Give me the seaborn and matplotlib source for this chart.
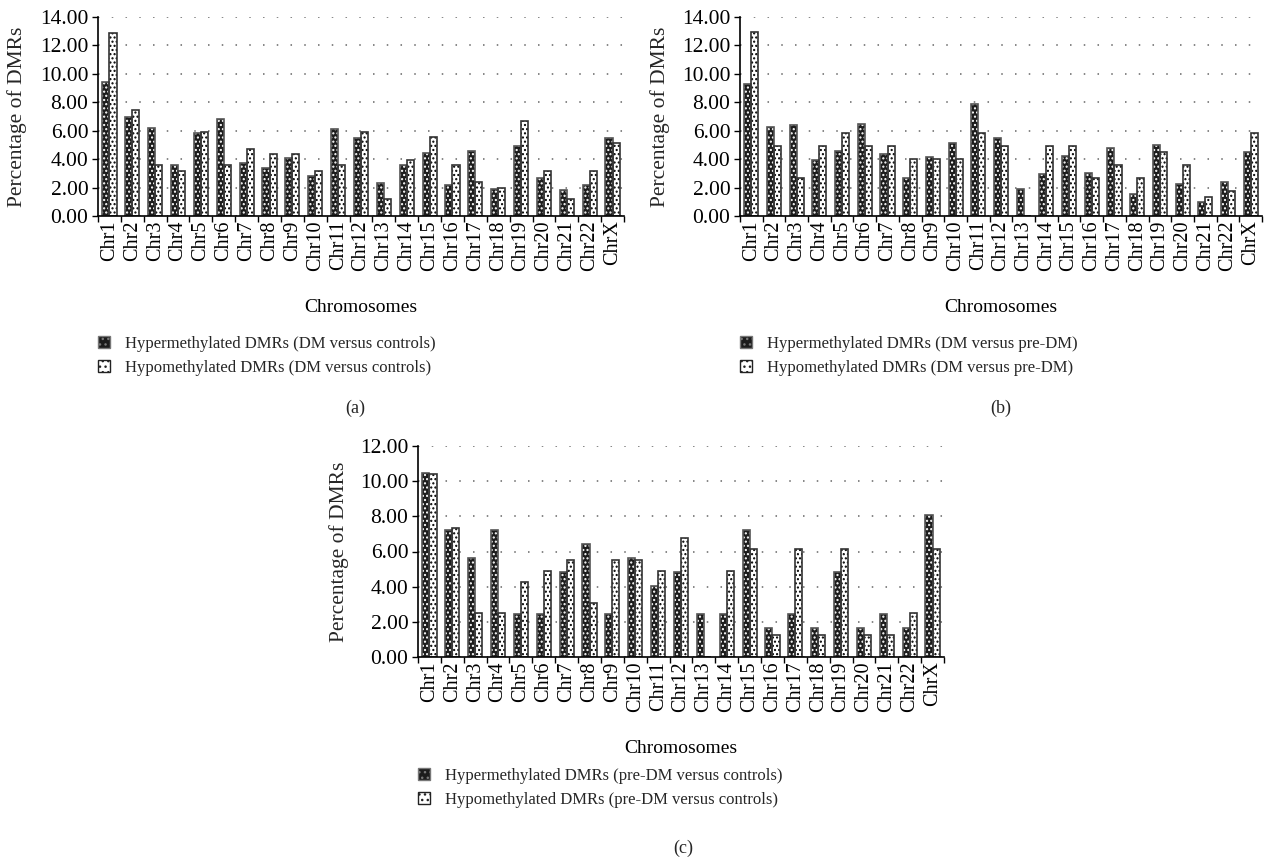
import matplotlib
matplotlib.use("Agg")
import matplotlib.pyplot as plt
from matplotlib.patches import Patch, Rectangle
import seaborn as sns
import pandas as pd

sns.set_theme(style="white")
plt.rcParams['font.family'] = ['Liberation Serif', 'DejaVu Serif']
plt.rcParams['hatch.linewidth'] = 1.0

chroms = ['Chr%d' % i for i in range(1, 23)] + ['ChrX']

hyper_a = [9.42, 7.00, 6.21, 3.58, 5.86, 6.81, 3.74, 3.40, 4.09, 2.81, 6.14, 5.47,
           2.30, 3.58, 4.43, 2.18, 4.59, 1.92, 4.94, 2.69, 1.83, 2.18, 5.46]
hypo_a = [12.90, 7.47, 3.58, 3.16, 5.90, 3.58, 4.72, 4.35, 4.35, 3.19, 3.58, 5.90,
          1.23, 3.95, 5.53, 3.58, 2.39, 1.99, 6.65, 3.16, 1.22, 3.16, 5.13]

hyper_b = [9.26, 6.28, 6.37, 3.93, 4.56, 6.47, 4.37, 2.67, 4.12, 5.12, 7.88, 5.47,
           1.90, 2.93, 4.19, 3.00, 4.81, 1.56, 4.98, 2.28, 1.00, 2.37, 4.47]
hypo_b = [12.95, 4.93, 2.70, 4.93, 5.84, 4.93, 4.93, 4.02, 4.02, 4.02, 5.81, 4.90,
          0.00, 4.90, 4.90, 2.67, 3.58, 2.67, 4.47, 3.58, 1.35, 1.79, 5.81]

hyper_c = [10.45, 7.25, 5.64, 7.25, 2.44, 2.44, 4.83, 6.44, 2.44, 5.64, 4.05, 4.83,
           2.44, 2.44, 7.25, 1.63, 2.44, 1.63, 4.83, 1.63, 2.44, 1.63, 8.05]
hypo_c = [10.40, 7.35, 2.48, 2.48, 4.28, 4.90, 5.53, 3.07, 5.53, 5.53, 4.90, 6.74,
          0.00, 4.90, 6.14, 1.23, 6.14, 1.23, 6.14, 1.23, 1.23, 2.48, 6.14]

panels = [
    ('(a)', 'DM versus controls', hyper_a, hypo_a, 14),
    ('(b)', 'DM versus pre-DM', hyper_b, hypo_b, 14),
    ('(c)', 'pre-DM versus controls', hyper_c, hypo_c, 12),
]

W, H = 1266, 861
# axes boxes in pixels: left, top, right, bottom
boxes = [(98, 17, 624, 216), (740, 17, 1262, 216), (418, 446, 944, 657)]
legend_pos = [(98, 336), (740, 336), (418, 768)]
tag_pos = [(355, 408), (1001, 408), (683, 848)]
ylab_x = [17, 660, 339]

dark = '#1c1c1c'
light = '#ffffff'
edge = '#555555'

fig = plt.figure(figsize=(W / 100, H / 100), dpi=100)

for (tag, comp, hyper, hypo, ymax), (l, t, r, b), lp, tp, yx in zip(
        panels, boxes, legend_pos, tag_pos, ylab_x):
    ax = fig.add_axes([l / W, 1 - b / H, (r - l) / W, (b - t) / H])
    df = pd.DataFrame({
        'chrom': chroms * 2,
        'value': hyper + hypo,
        'kind': ['Hypermethylated DMRs (%s)' % comp] * len(chroms)
        + ['Hypomethylated DMRs (%s)' % comp] * len(chroms),
    })
    sns.barplot(data=df, x='chrom', y='value', hue='kind', palette=[dark, light],
                width=0.62, gap=0, ax=ax, legend=False, saturation=1, errorbar=None)

    n = len(chroms)
    bars = list(ax.patches)
    for i, p in enumerate(bars):
        is_hyper = i < n
        p.set_hatch('....')
        p.set_edgecolor(light if is_hyper else 'black')
        p.set_linewidth(0)
        outline = Rectangle(p.get_xy(), p.get_width(), p.get_height(), fill=False,
                            edgecolor='#333333' if not is_hyper else edge,
                            linewidth=1.2, zorder=p.get_zorder() + 0.1)
        ax.add_patch(outline)

    ax.set_xlim(-0.5, n - 0.5)
    ax.set_ylim(0, ymax)
    ax.set_yticks(range(0, ymax + 1, 2))
    ax.set_yticklabels(['%.2f' % v for v in range(0, ymax + 1, 2)], fontsize=15.5)
    ax.set_xticks(range(n))
    ax.set_xticklabels(chroms, rotation=90, fontsize=14.5)
    ax.set_xticks([k - 0.5 for k in range(n + 1)], minor=True)
    ax.tick_params(axis='x', which='major', length=0, pad=3, colors='black')
    ax.tick_params(axis='x', which='minor', length=4, width=1, color='black',
                   direction='out', bottom=True)
    ax.tick_params(axis='y', which='major', length=4, width=1, color='black',
                   direction='out', left=True, pad=3, colors='black')
    ax.yaxis.grid(True, linestyle=(0, (1, 8)), color='#666666', linewidth=1.1)
    ax.set_axisbelow(True)
    for s in ['top', 'right']:
        ax.spines[s].set_visible(False)
    for s in ['left', 'bottom']:
        ax.spines[s].set_color('black')
        ax.spines[s].set_linewidth(1.2)
    ax.set_xlabel('Chromosomes', fontsize=14, labelpad=20, color='black')
    ax.set_ylabel('')
    fig.text(yx / W, 1 - (t + b) / 2 / H, 'Percentage of DMRs', rotation=90,
             fontsize=15.5, ha='center', va='center')

    handles = [Patch(facecolor=dark, edgecolor='#777777', hatch='...'),
               Patch(facecolor=light, edgecolor='#222222', hatch='...')]
    labels = ['Hypermethylated DMRs (%s)' % comp, 'Hypomethylated DMRs (%s)' % comp]
    fig.legend(handles, labels, loc='upper left',
               bbox_to_anchor=(lp[0] / W, 1 - lp[1] / H), frameon=False,
               fontsize=12, handlelength=0.7, handleheight=0.7,
               handletextpad=0.9, labelspacing=0.45, borderaxespad=0,
               borderpad=0)
    fig.text(tp[0] / W, 1 - tp[1] / H, tag, fontsize=13, ha='center', va='center')

fig.savefig('out.png', dpi=100)
